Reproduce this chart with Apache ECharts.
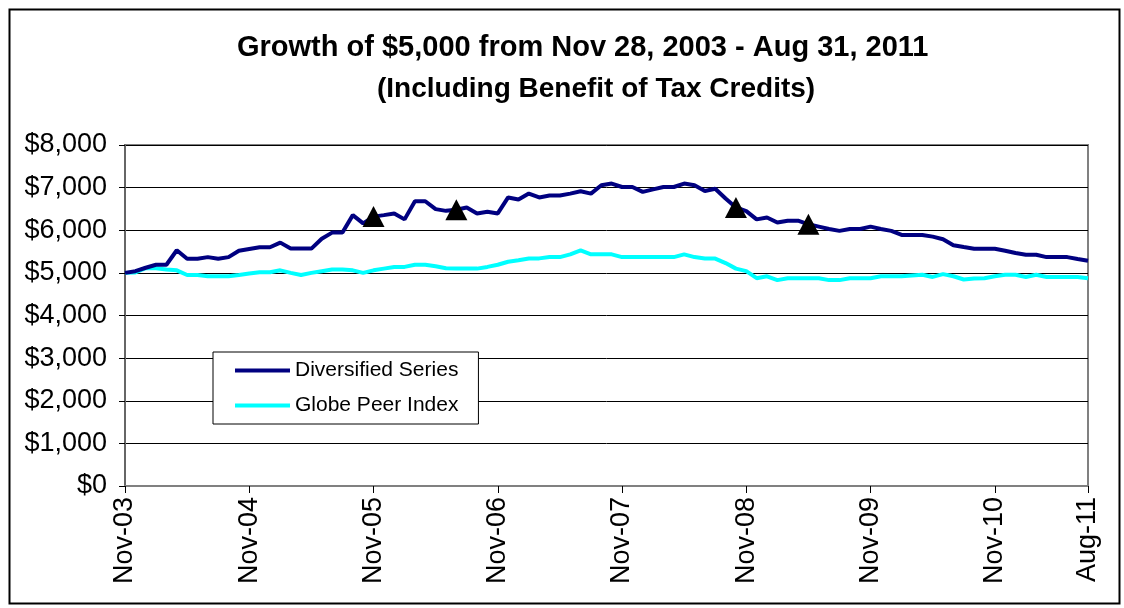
<!DOCTYPE html>
<html>
<head>
<meta charset="utf-8">
<script src="https://cdn.jsdelivr.net/npm/echarts/dist/echarts.min.js"></script>
<style>
  body { margin: 0; background: #fff; }
  #chart { width: 1124px; height: 608px; }
</style>
</head>
<body>
<div id="chart"></div>
<script>
// monthly values, Nov-03 .. Aug-11
var diversified = [
  5000, 5040, 5120, 5190, 5190, 5530, 5330, 5330, 5370, 5330, 5370, 5520,
  5560, 5600, 5600, 5710, 5570, 5570, 5570, 5800, 5945, 5945, 6355, 6160,
  6320, 6355, 6395, 6255, 6680, 6680, 6495, 6455, 6480, 6535, 6395, 6435,
  6395, 6770, 6720, 6860, 6770, 6815, 6815, 6860, 6915, 6860, 7055, 7095,
  7015, 7015, 6900, 6960, 7015, 7015, 7095, 7055, 6920, 6975, 6745, 6535,
  6450, 6255, 6300, 6180, 6225, 6225, 6140, 6085, 6030, 5985, 6030, 6030,
  6085, 6030, 5985, 5890, 5890, 5890, 5850, 5790, 5650, 5605, 5565, 5565,
  5565, 5520, 5465, 5425, 5425, 5370, 5370, 5370, 5325, 5285
];
var peer = [
  5000, 5010, 5110, 5110, 5080, 5060, 4950, 4950, 4920, 4920, 4920, 4950,
  4985, 5015, 5015, 5060, 5000, 4950, 5000, 5040, 5080, 5080, 5060, 5000,
  5060, 5100, 5140, 5140, 5190, 5190, 5155, 5110, 5100, 5100, 5100, 5140,
  5190, 5260, 5295, 5335, 5340, 5370, 5370, 5435, 5525, 5435, 5435, 5435,
  5370, 5370, 5370, 5370, 5370, 5370, 5435, 5370, 5335, 5335, 5230, 5100,
  5040, 4875, 4920, 4830, 4875, 4875, 4875, 4875, 4830, 4830, 4875, 4875,
  4875, 4920, 4920, 4920, 4940, 4955, 4905, 4970, 4920, 4845, 4870, 4875,
  4920, 4955, 4955, 4905, 4955, 4905, 4905, 4905, 4905, 4875
];
// months where a triangle sits on the Diversified line
var markerIdx = [24, 32, 59, 66];

var monthNames = ['Jan', 'Feb', 'Mar', 'Apr', 'May', 'Jun', 'Jul', 'Aug', 'Sep', 'Oct', 'Nov', 'Dec'];
var months = [];
for (var i = 0; i < diversified.length; i++) {
  var m = (10 + i) % 12;
  var y = 2003 + Math.floor((10 + i) / 12);
  months.push(monthNames[m] + '-' + String(y).slice(2));
}

var markers = diversified.map(function (v, i) {
  return markerIdx.indexOf(i) >= 0 ? v : null;
});

function showTick(index) {
  return months[index].indexOf('Nov') === 0 || index === months.length - 1;
}

var font = "'Liberation Sans', Arial, sans-serif";
var myChart = echarts.init(document.getElementById('chart'));
var option = {
  animation: false,
  textStyle: { fontFamily: font },
  title: [
    {
      text: 'Growth of $5,000 from Nov 28, 2003 - Aug 31, 2011',
      left: 232, top: 28,
      textStyle: { fontSize: 29, fontWeight: 'bold', color: '#000', fontFamily: font }
    },
    {
      text: '(Including Benefit of Tax Credits)',
      left: 372, top: 70,
      textStyle: { fontSize: 28, fontWeight: 'bold', color: '#000', fontFamily: font }
    }
  ],
  graphic: [{
    type: 'rect',
    left: 7, top: 7,
    shape: { width: 1110, height: 594 },
    style: { fill: 'none', stroke: '#000', lineWidth: 2 }
  }],
  legend: {
    data: ['Diversified Series', 'Globe Peer Index'],
    orient: 'vertical',
    left: 213, top: 352,
    padding: [8, 20, 8, 22],
    itemGap: 14,
    itemWidth: 55,
    itemHeight: 4,
    icon: 'rect',
    backgroundColor: '#fff',
    borderColor: '#000',
    borderWidth: 1,
    textStyle: { fontSize: 21, color: '#000', fontFamily: font }
  },
  grid: {
    left: 125, right: 36, top: 145, bottom: 122,
    show: true,
    borderColor: '#808080',
    borderWidth: 2,
    backgroundColor: '#fff'
  },
  xAxis: {
    type: 'category',
    data: months,
    boundaryGap: false,
    axisLine: { lineStyle: { color: '#808080', width: 2 } },
    axisTick: { interval: showTick, length: 7, lineStyle: { color: '#000' } },
    axisLabel: {
      interval: showTick,
      rotate: 90,
      fontSize: 27,
      color: '#000',
      margin: 11,
      fontFamily: font
    },
    splitLine: { show: false }
  },
  yAxis: {
    type: 'value',
    min: 0, max: 8000, interval: 1000,
    axisLine: { show: true, lineStyle: { color: '#666', width: 2 } },
    axisTick: { show: true, length: 6, lineStyle: { color: '#000' } },
    axisLabel: {
      fontSize: 27,
      color: '#000',
      margin: 18,
      fontFamily: font,
      formatter: function (v) { return '$' + v.toLocaleString('en-US'); }
    },
    splitLine: { lineStyle: { color: '#000', width: 1 } }
  },
  series: [
    {
      name: 'Diversified Series',
      type: 'line',
      data: diversified,
      showSymbol: false,
      symbol: 'none',
      color: '#000080',
      lineStyle: { color: '#000080', width: 4 },
      z: 3
    },
    {
      name: 'Globe Peer Index',
      type: 'line',
      data: peer,
      showSymbol: false,
      symbol: 'none',
      color: '#00FFFF',
      lineStyle: { color: '#00FFFF', width: 4 },
      z: 2
    },
    {
      name: 'markers',
      type: 'scatter',
      data: markers,
      symbol: 'triangle',
      symbolSize: [22, 21],
      itemStyle: { color: '#000', opacity: 1 },
      z: 4
    }
  ]
};
option && myChart.setOption(option);
</script>
</body>
</html>
